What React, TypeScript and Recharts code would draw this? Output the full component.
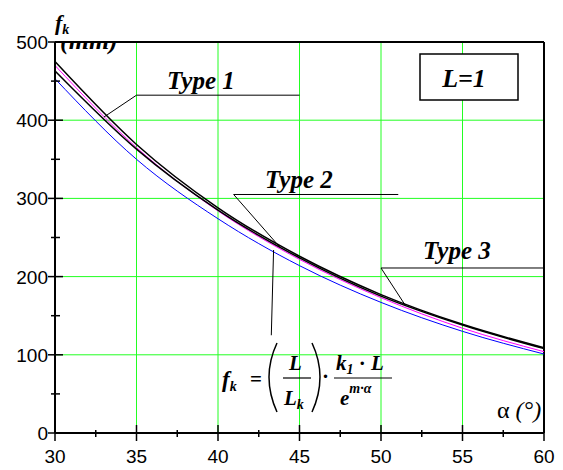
import React from 'react';
import {
  LineChart,
  Line,
  XAxis,
  YAxis,
  CartesianGrid,
  ReferenceLine,
} from 'recharts';

// deflection f_k (mm) against angle α (°), three cable types plus the formula curve
const alpha = [30, 35, 40, 45, 50, 55, 60];
const type1 = [475, 369, 288, 226, 177, 139, 109];
const type2 = [470, 365, 284, 222, 173, 134, 104];
const type3 = [463, 363, 285, 224, 175, 138, 108];
const formulaCurve = [453, 350, 274, 214, 167, 130, 101];

const xTicks = [30, 32.5, 35, 37.5, 40, 42.5, 45, 47.5, 50, 52.5, 55, 57.5, 60];
const yTicks = [0, 50, 100, 150, 200, 250, 300, 350, 400, 450, 500];
const gridX = [35, 40, 45, 50, 55];
const gridY = [100, 200, 300, 400];

const data = alpha.map((a, i) => ({
  a,
  type1: type1[i],
  type2: type2[i],
  type3: type3[i],
  formula: formulaCurve[i],
}));

const W = 563;
const H = 470;
const serif = '"Liberation Serif", "Times New Roman", serif';
const sans = '"Liberation Sans", Arial, sans-serif';

const XTick = (props: any) => {
  const { x, y, payload } = props;
  const major = payload.value % 5 === 0;
  return (
    <g>
      <line x1={x} x2={x} y1={major ? y - 8 : y - 3} y2={major ? y + 8 : y + 4} stroke="#000" strokeWidth={1.5} />
      {major && (
        <text x={x} y={y + 30} textAnchor="middle" fontFamily={sans} fontSize={19} fill="#000">
          {payload.value}
        </text>
      )}
    </g>
  );
};

const YTick = (props: any) => {
  const { x, y, payload } = props;
  const major = payload.value % 100 === 0;
  return (
    <g>
      <line x1={major ? x - 7 : x - 4} x2={major ? x + 8 : x + 5} y1={y} y2={y} stroke="#000" strokeWidth={1.5} />
      {major && (
        <text x={x - 7} y={y + 7} textAnchor="end" fontFamily={sans} fontSize={19} fill="#000">
          {payload.value}
        </text>
      )}
    </g>
  );
};

// leader lines from the labels to the curves, in data units
const leader = { stroke: '#000', strokeWidth: 1, ifOverflow: 'visible' as const };

export default function App() {
  return (
    <div style={{ position: 'relative', width: W, height: H, background: '#fff' }}>
      <style>{'body{margin:0}'}</style>
      <LineChart width={W} height={H} data={data} margin={{ top: 42, right: 19, bottom: 0, left: 0 }}>
        <CartesianGrid
          stroke="#22ff22"
          strokeWidth={1}
          horizontalValues={gridY}
          verticalValues={gridX}
        />
        <XAxis
          type="number"
          dataKey="a"
          domain={[30, 60]}
          ticks={xTicks}
          interval={0}
          height={37}
          tickSize={0}
          tickMargin={0}
          tickLine={false}
          axisLine={{ stroke: '#000', strokeWidth: 2 }}
          tick={<XTick />}
        />
        <YAxis
          type="number"
          domain={[0, 500]}
          ticks={yTicks}
          interval={0}
          width={55}
          tickSize={0}
          tickMargin={0}
          tickLine={false}
          axisLine={{ stroke: '#000', strokeWidth: 2 }}
          tick={<YTick />}
        />
        <ReferenceLine y={500} stroke="#000" strokeWidth={2} />
        <ReferenceLine x={60} stroke="#000" strokeWidth={2} />

        <Line type="monotone" dataKey="formula" stroke="#0000ff" strokeWidth={1} dot={false} isAnimationActive={false} />
        <Line type="monotone" dataKey="type2" stroke="#ff00ff" strokeWidth={1} dot={false} isAnimationActive={false} />
        <Line type="monotone" dataKey="type3" stroke="#000" strokeWidth={1.5} dot={false} isAnimationActive={false} />
        <Line type="monotone" dataKey="type1" stroke="#000" strokeWidth={1.5} dot={false} isAnimationActive={false} />

        <ReferenceLine segment={[{ x: 35, y: 432 }, { x: 45, y: 432 }]} {...leader} />
        <ReferenceLine segment={[{ x: 35, y: 432 }, { x: 33.0, y: 404 }]} {...leader} />
        <ReferenceLine segment={[{ x: 40.96, y: 305 }, { x: 51.06, y: 305 }]} {...leader} />
        <ReferenceLine segment={[{ x: 40.96, y: 305 }, { x: 43.78, y: 238 }]} {...leader} />
        <ReferenceLine segment={[{ x: 50, y: 211 }, { x: 60, y: 211 }]} {...leader} />
        <ReferenceLine segment={[{ x: 50, y: 211 }, { x: 51.5, y: 163 }]} {...leader} />
        <ReferenceLine segment={[{ x: 43.27, y: 125 }, { x: 43.41, y: 234 }]} {...leader} />
      </LineChart>

      <svg width={W} height={H} style={{ position: 'absolute', left: 0, top: 0, pointerEvents: 'none' }}>
        <defs>
          <clipPath id="unitClip">
            <rect x={56} y={43} width={90} height={20} />
          </clipPath>
        </defs>

        {/* axis titles */}
        <text x={55} y={30} fontFamily={serif} fontWeight="bold" fontStyle="italic" fontSize={22}>
          f<tspan fontSize={14} dy={4}>k</tspan>
        </text>
        <text x={60} y={49} fontFamily={serif} fontWeight="bold" fontStyle="italic" fontSize={26} clipPath="url(#unitClip)">
          (mm)
        </text>
        <text x={497} y={418} fontFamily={serif} fontSize={24}>
          α<tspan fontStyle="italic"> (°)</tspan>
        </text>

        {/* series labels */}
        <g fontFamily={serif} fontWeight="bold" fontStyle="italic" fontSize={25}>
          <text x={167} y={89}>Type 1</text>
          <text x={265} y={188}>Type 2</text>
          <text x={423} y={259}>Type 3</text>
        </g>

        <rect x={420} y={54} width={98} height={46} fill="#fff" stroke="#000" strokeWidth={1.5} />
        <text x={464} y={87} textAnchor="middle" fontFamily={serif} fontWeight="bold" fontStyle="italic" fontSize={26}>
          L=1
        </text>

        {/* f_k = (L / L_k) · k_1·L / e^(m·α) */}
        <g fontFamily={serif} fontWeight="bold" fontStyle="italic" fontSize={21}>
          <text x={222} y={387} fontSize={23}>
            f<tspan fontSize={14} dy={4}>k</tspan>
          </text>
          <text x={250} y={386} fontStyle="normal">=</text>
          <path d="M 277 343 Q 261 377 277 412" stroke="#000" strokeWidth={1.5} fill="none" />
          <text x={289} y={370}>L</text>
          <line x1={283} x2={311} y1={378} y2={378} stroke="#000" strokeWidth={1.2} />
          <text x={284} y={405}>
            L<tspan fontSize={14} dy={4}>k</tspan>
          </text>
          <path d="M 312 343 Q 328 377 312 412" stroke="#000" strokeWidth={1.5} fill="none" />
          <text x={322} y={383} fontStyle="normal">·</text>
          <text x={336} y={370}>
            k<tspan fontSize={14} dy={4}>1</tspan>
            <tspan dy={-4} fontStyle="normal"> · </tspan>L
          </text>
          <line x1={334} x2={392} y1={378} y2={378} stroke="#000" strokeWidth={1.2} />
          <text x={340} y={405}>
            e<tspan fontSize={14} dy={-12}>m·α</tspan>
          </text>
        </g>
      </svg>
    </div>
  );
}
